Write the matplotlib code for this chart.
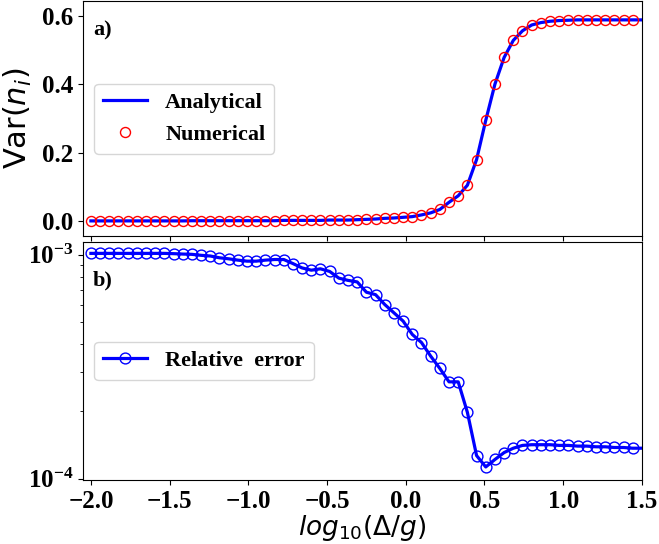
import numpy as np
import matplotlib
matplotlib.use("Agg")
import matplotlib.pyplot as plt

# ---------------- data ----------------
# grid of log10(Delta/g); the curves use all 61 points, markers the first 60
log_delta = np.linspace(-2.0, 1.5, 61)

var_analytical = [
    0.0005, 0.0005, 0.0005, 0.0005, 0.0005, 0.0005, 0.0005, 0.0005, 0.0005, 0.0005,
    0.0005, 0.001, 0.001, 0.001, 0.001, 0.001, 0.001, 0.001, 0.001, 0.001,
    0.001, 0.002, 0.002, 0.002, 0.002, 0.002, 0.003, 0.003, 0.003, 0.004,
    0.005, 0.006, 0.008, 0.009, 0.011, 0.013, 0.018, 0.024, 0.034, 0.055,
    0.074, 0.105, 0.180, 0.295, 0.401, 0.479, 0.529, 0.557, 0.574, 0.581,
    0.585, 0.587, 0.588, 0.589, 0.589, 0.589, 0.589, 0.589, 0.589, 0.589,
    0.589,
]
var_numerical = var_analytical[:60]

rel_error = [
    1.015e-3, 1.015e-3, 1.015e-3, 1.015e-3, 1.015e-3, 1.015e-3, 1.015e-3, 1.015e-3, 1.015e-3, 1.012e-3,
    1.008e-3, 1.005e-3, 0.995e-3, 0.988e-3, 0.970e-3, 0.960e-3, 0.947e-3, 0.937e-3, 0.937e-3, 0.947e-3,
    0.953e-3, 0.953e-3, 0.914e-3, 0.874e-3, 0.854e-3, 0.866e-3, 0.843e-3, 0.787e-3, 0.769e-3, 0.757e-3,
    0.681e-3, 0.664e-3, 0.600e-3, 0.551e-3, 0.506e-3, 0.441e-3, 0.406e-3, 0.353e-3, 0.311e-3, 0.271e-3,
    0.271e-3, 0.198e-3, 0.127e-3, 0.113e-3, 0.122e-3, 0.131e-3, 0.137e-3, 0.141e-3, 0.142e-3, 0.142e-3,
    0.142e-3, 0.141e-3, 0.141e-3, 0.140e-3, 0.140e-3, 0.139e-3, 0.139e-3, 0.138e-3, 0.138e-3, 0.137e-3,
    0.137e-3,
]

x_ticks = [-2.0, -1.5, -1.0, -0.5, 0.0, 0.5, 1.0, 1.5]
top_yticks = [0.0, 0.2, 0.4, 0.6]
log_yticks = [1e-4, 1e-3]
log_ytick_labels = [r'$\mathdefault{10^{-4}}$', r'$\mathdefault{10^{-3}}$']

# ---------------- style ----------------
plt.rcParams['font.family'] = ['Liberation Serif', 'DejaVu Serif']
plt.rcParams['font.weight'] = 'normal'

fig = plt.figure(figsize=(6.59, 5.44), dpi=100)
ax1 = fig.add_axes([0.126, 0.566, 0.848, 0.432])
ax2 = fig.add_axes([0.126, 0.118, 0.848, 0.437], sharex=ax1)

n_mark = len(var_numerical)
bold_tick = {'family': 'Liberation Serif', 'weight': 'bold', 'size': 18}

# ---- panel a ----
ax1.plot(log_delta, var_analytical, color='blue', lw=2.3, label='Analytical', zorder=2)
ax1.plot(log_delta[:n_mark], var_numerical, ls='none', marker='o', ms=7.2,
         mfc='none', mec='red', mew=1.0, label='Numerical', zorder=3)
ax1.set_xlim(-2.05, 1.5)
ax1.set_ylim(-0.044, 0.644)
ax1.set_yticks(top_yticks)
ax1.set_yticklabels([f"{v:.1f}" for v in top_yticks], fontdict=bold_tick)
ax1.tick_params(axis='x', labelbottom=False)
ax1.set_ylabel(r'Var($n_i$)', fontsize=22, family='DejaVu Sans', fontweight='normal', labelpad=6)
ax1.text(0.018, 0.875, 'a)', transform=ax1.transAxes, fontsize=16, fontweight='bold',
         va='center', ha='left')
ax1.legend(loc='center left', bbox_to_anchor=(0.0, 0.5),
           prop={'family': 'Liberation Serif', 'weight': 'bold', 'size': 16})

# ---- panel b ----
ax2.plot(log_delta, rel_error, color='blue', lw=2.3, zorder=2)
ax2.plot(log_delta[:n_mark], rel_error[:n_mark], ls='none', marker='o', ms=7.8,
         mfc='none', mec='blue', mew=1.0, zorder=3)
ax2.plot([], [], color='blue', lw=2.3, marker='o', ms=7.8, mfc='none', mec='blue', mew=1.0,
         label='Relative  error')
ax2.set_yscale('log')
ax2.set_ylim(0.99e-4, 1.14e-3)
ax2.set_yticks(log_yticks)
ax2.set_yticklabels(log_ytick_labels, fontdict=bold_tick)
ax2.set_xticks(x_ticks)
ax2.set_xticklabels([f"{v:.1f}".replace('-', '\u2212') for v in x_ticks], fontdict=bold_tick)
ax2.set_xlabel(r'$log_{10}(\Delta/g)$', fontsize=19, family='DejaVu Sans', fontweight='normal',
               labelpad=0)
ax2.text(0.018, 0.837, 'b)', transform=ax2.transAxes, fontsize=16, fontweight='bold',
         va='center', ha='left')
ax2.legend(loc='center left', bbox_to_anchor=(0.0, 0.5),
           prop={'family': 'Liberation Serif', 'weight': 'bold', 'size': 16})

fig.savefig('out.png', dpi=100)
